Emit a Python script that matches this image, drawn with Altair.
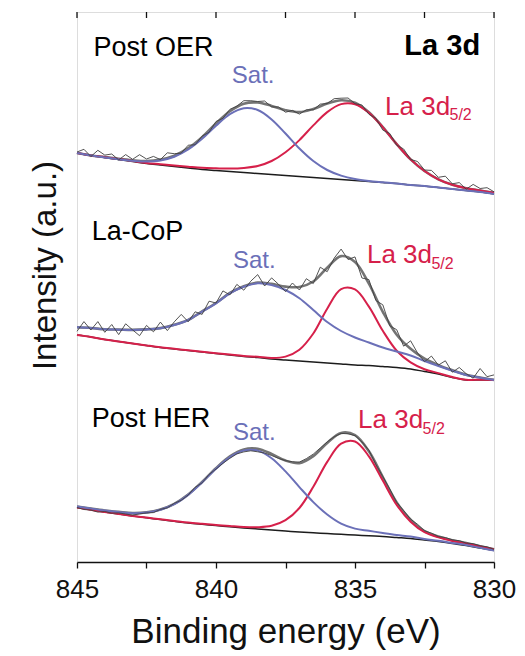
import altair as alt
import pandas as pd

# Binding energy grids (eV)
energy_fit = [845.0, 844.5, 844.0, 843.5, 843.0, 842.5, 842.0, 841.5, 841.0, 840.5,
              840.0, 839.5, 839.0, 838.5, 838.0, 837.5, 837.0, 836.5, 836.0, 835.5,
              835.0, 834.5, 834.0, 833.5, 833.0, 832.5, 832.0, 831.5, 831.0, 830.5, 830.0]
energy_raw = [845.0, 844.75, 844.5, 844.25, 844.0, 843.75, 843.5, 843.25, 843.0, 842.75,
              842.5, 842.25, 842.0, 841.75, 841.5, 841.25, 841.0, 840.75, 840.5, 840.25,
              840.0, 839.75, 839.5, 839.25, 839.0, 838.75, 838.5, 838.25, 838.0, 837.75,
              837.5, 837.25, 837.0, 836.75, 836.5, 836.25, 836.0, 835.75, 835.5, 835.25,
              835.0, 834.75, 834.5, 834.25, 834.0, 833.75, 833.5, 833.25, 833.0, 832.75,
              832.5, 832.25, 832.0, 831.75, 831.5, 831.25, 831.0, 830.75, 830.5, 830.25, 830.0]

# Post OER (intensity, a.u., stacked offset included)
oer_bg = [409, 406.5, 404.5, 402.5, 400.5, 398.5, 397, 395.5, 394, 392.5, 391.5, 390.5, 389.5,
          388.5, 387.5, 386.5, 385.5, 384.5, 383.5, 382.5, 381.5, 380.5, 379.5, 378.5, 377, 376,
          374.5, 373, 371.5, 370, 368]
oer_sat = [409, 406.5, 404.5, 402.7, 401.2, 400.4, 401.6, 405.3, 412.5, 423.2, 436.3, 447.8, 453.8,
           452, 442.6, 428.5, 413.5, 401, 392, 386.4, 383, 381, 379.7, 378.5, 377, 376, 374.5,
           373, 371.5, 370, 368]
oer_la = [409, 406.5, 404.8, 402.9, 401, 399.1, 397.8, 396.5, 395.3, 394.2, 393.7, 393.4, 394,
          396, 401, 409.8, 421.9, 436.6, 449.9, 457.9, 457.8, 449.2, 434.7, 417.9, 402.6, 391,
          382.7, 377.2, 373.8, 371.5, 369.2]
oer_env = [409, 406.5, 404.9, 403.1, 401.7, 401, 402.4, 406.3, 413.8, 424.9, 438.5, 450.7, 458.3,
           459.5, 456.1, 451.8, 449.9, 453.1, 458.4, 461.8, 459.3, 449.7, 434.9, 417.9, 402.6, 391,
           382.7, 377.2, 373.8, 371.5, 369.2]
oer_raw = [410, 412.7, 405.5, 411.7, 406.9, 408, 402.1, 407.4, 402.7, 407.3,
           403, 405.6, 402.4, 409.2, 408.3, 408.9, 416.8, 417.2, 425.9, 429.7,
           440.5, 443.7, 452.7, 455.8, 461.3, 461.3, 460.5, 461, 455.1, 455,
           449.8, 451.6, 447.9, 452.2, 452.1, 457.9, 458.4, 463.3, 463.8, 464,
           458.3, 457, 447.7, 443.7, 431.9, 428.5, 416.9, 413, 402.6, 400.5,
           392, 391.6, 384.7, 385.8, 378.2, 379.4, 372.8, 377.6, 373.5, 374.3, 370.2]

# La-CoP
cop_bg = [227, 225, 222.5, 220.5, 218.5, 216.5, 214.5, 213, 211.5, 210, 208.5, 207, 205.5, 204.5,
          203, 202, 201, 200, 199, 198, 197, 196.5, 195.5, 194.5, 193, 190.5, 188, 184.5, 182,
          182, 182]
cop_sat = [234.7, 234, 232.7, 232.3, 232, 232.5, 233.7, 237, 242, 250.3, 258.7, 268.7, 275.3,
           278.7, 277, 272, 263.7, 252, 240, 231, 224.5, 219.5, 214.5, 210.5, 206.5, 201, 196,
           191.3, 187, 184.3, 182]
cop_la = [227, 225, 222.5, 220.6, 218.6, 216.6, 214.7, 213.2, 211.7, 210.3, 208.8, 207.4, 206,
          205.2, 204.1, 205.4, 212.3, 228.5, 253.3, 272.9, 272.6, 255.4, 231.2, 211.3, 199.7,
          192.8, 188.9, 185, 182.3, 182.2, 182.1]
cop_env = [234.7, 234, 232.7, 232.4, 232.1, 232.6, 233.9, 237.2, 242.2, 250.6, 259, 269.1, 275.8,
           279.4, 278.1, 275.4, 275, 280.5, 294.3, 305.9, 300.1, 278.4, 250.2, 227.3, 213.2,
           203.3, 196.9, 191.8, 187.3, 184.5, 182.1]
cop_raw = [230.7, 240.4, 232, 240.4, 229.7, 237.5, 227.4, 238.2, 232.1, 226.3,
           236.6, 230.2, 239.9, 231.4, 240.2, 247.6, 240.2, 250.2, 247.6, 260.8,
           259, 271.1, 267.1, 277.6, 271.8, 280.8, 287.4, 276, 284.1, 277.7,
           270.4, 279, 272, 283.3, 278.5, 294.8, 290.3, 303.8, 312.9, 302.5,
           305.1, 284, 282.4, 261.5, 257.2, 236.2, 232.3, 215.8, 221.2, 209,
           200.3, 205.9, 196.9, 201.2, 189.8, 194.5, 188.3, 183.8, 193.5, 185.3, 187.1]

# Post HER
her_bg = [54.5, 52.2, 50, 48, 46, 44.2, 42.5, 40.7, 39, 37.7, 36.5, 35.2, 34, 33, 32, 31, 30,
          29.2, 28.5, 27.7, 27, 26.2, 25.5, 24.5, 23.5, 22, 20.5, 18.5, 16.5, 14, 11.5]
her_sat = [55.5, 53.4, 51.5, 50, 48.8, 49.4, 52.3, 57.8, 67.1, 79.6, 93.3, 104.9, 111.6, 111.4,
           103.8, 90.6, 74.9, 59.9, 47.5, 38.4, 33.4, 31.2, 29, 27, 25.5, 23, 21.3, 19.1, 16.9,
           14.2, 11.5]
her_la = [54.5, 52.2, 50, 48.1, 46.1, 44.4, 42.8, 41.1, 39.4, 38.2, 37.1, 36, 35, 34.8, 36.2,
          41.8, 54, 75.2, 100.1, 118.4, 120.5, 105.7, 81.4, 57.1, 40.3, 29.8, 24.6, 21.1, 18.5,
          15.5, 12.7]
her_env = [55.5, 53.4, 51.5, 50.1, 48.9, 49.6, 52.6, 58.2, 67.5, 80.1, 93.9, 105.7, 112.6, 113.2,
           108, 101.4, 98.9, 105.9, 119.1, 129.1, 126.9, 110.7, 84.9, 59.6, 42.3, 30.8, 25.4,
           21.7, 18.9, 15.7, 12.7]
her_raw = [54.5, 52.5, 51.9, 49.9, 50.5, 48.8, 49.1, 48, 46.9, 48.1,
           49.1, 49.4, 52.6, 54.2, 58.7, 61.7, 67, 74.7, 79.1, 87.5,
           92.9, 98.7, 103.7, 108.1, 110.1, 111.2, 110.2, 109, 106.5, 103.6,
           101.4, 100.3, 99.9, 103.4, 107.9, 114, 120.1, 125.2, 128.6, 128.2,
           126.4, 120, 111.7, 97.7, 85.4, 73, 59.6, 51.4, 42.8, 37.7,
           31.3, 28.8, 25.4, 24.5, 22.2, 21.3, 18.9, 18.3, 16.2, 15.2, 12.7]

# Annotations
label_text = ["Post OER", "Sat.", "La 3d", "5/2",
              "La-CoP", "Sat.", "La 3d", "5/2",
              "Post HER", "Sat.", "La 3d", "5/2"]
label_energy = [844.41, 839.43, 833.92, 831.60,
                844.47, 839.39, 834.57, 832.25,
                844.47, 839.39, 834.89, 832.57]
label_intensity = [506, 478.7, 447, 442,
                   322, 294, 298.7, 293.5,
                   135.3, 122, 133.7, 128.5]
label_size = [27, 24, 26, 16, 27, 24, 26, 16, 27, 24, 26, 16]
label_kind = ["sample", "sat", "la", "la", "sample", "sat", "la", "la", "sample", "sat", "la", "la"]
title_text = ["La 3d"]
title_energy = [830.5]
title_intensity = [507]
tick_energy = [845, 842.5, 840, 837.5, 835, 832.5, 830]

BLUE = "#6b70b8"
RED = "#d6204a"
FONT = "Liberation Sans"

panels = {
    "Post OER": dict(bg=oer_bg, sat=oer_sat, la=oer_la, env=oer_env, raw=oer_raw),
    "La-CoP": dict(bg=cop_bg, sat=cop_sat, la=cop_la, env=cop_env, raw=cop_raw),
    "Post HER": dict(bg=her_bg, sat=her_sat, la=her_la, env=her_env, raw=her_raw),
}

rows = []
for pname, d in panels.items():
    for comp in ["bg", "sat", "la", "env"]:
        for e, v in zip(energy_fit, d[comp]):
            rows.append({"panel": pname, "comp": comp, "E": e, "I": v})
    for e, v in zip(energy_raw, d["raw"]):
        rows.append({"panel": pname, "comp": "raw", "E": e, "I": v})
df = pd.DataFrame(rows)

kind_color = {"sample": "#000000", "sat": BLUE, "la": RED}
df_lab = pd.DataFrame({
    "E": label_energy, "I": label_intensity, "text": label_text,
    "size": label_size, "color": [kind_color[k] for k in label_kind],
})
df_title = pd.DataFrame({"E": title_energy, "I": title_intensity, "text": title_text})
df_ticks = pd.DataFrame({"E": tick_energy})

x_enc = alt.X(
    "E:Q",
    scale=alt.Scale(domain=[845, 830], nice=False, zero=False),
    axis=alt.Axis(
        values=tick_energy,
        labelExpr="datum.value % 5 == 0 ? format(datum.value, 'd') : ''",
        tickSize=6, tickWidth=1.3, tickColor="#111111",
        domainColor="#111111", domainWidth=1.5,
        labelFont=FONT, labelFontSize=26, labelColor="#111111", labelPadding=8,
        labelFlush=False, labelOverlap=False,
        grid=False,
        title="Binding energy (eV)",
        titleFont=FONT, titleFontSize=35, titleFontWeight="normal", titleColor="#111111",
        titleX=208.5, titleY=80, titleAlign="center", titleBaseline="alphabetic",
    ),
)
y_enc = alt.Y(
    "I:Q",
    scale=alt.Scale(domain=[0, 550], nice=False, zero=False),
    axis=alt.Axis(
        labels=False, ticks=False, domain=False, grid=False,
        title="Intensity (a.u.)",
        titleFont=FONT, titleFontSize=33, titleFontWeight="normal", titleColor="#111111",
        titleAngle=270, titleX=-22, titleY=253, titleAlign="center",
        titleBaseline="alphabetic",
    ),
)

base = alt.Chart(df)


def line_layer(comp, color, width, interp):
    return base.transform_filter(alt.datum.comp == comp).mark_line(
        color=color, strokeWidth=width, interpolate=interp
    ).encode(x=x_enc, y=y_enc, detail="panel:N")


env_l = line_layer("env", "#747474", 2.6, "catmull-rom")
bg_l = line_layer("bg", "#1c1c1c", 1.5, "catmull-rom")
la_l = line_layer("la", RED, 2.0, "catmull-rom")
sat_l = line_layer("sat", BLUE, 2.0, "catmull-rom")
raw_l = line_layer("raw", "#404040", 0.9, "linear")

top_ticks = alt.Chart(df_ticks).mark_rule(color="#111111", strokeWidth=1.3).encode(
    x=alt.X("E:Q"), y=alt.value(0), y2=alt.value(6)
)

labels = alt.Chart(df_lab).mark_text(
    font=FONT, align="left", baseline="alphabetic"
).encode(
    x="E:Q", y="I:Q", text="text:N",
    size=alt.Size("size:Q", scale=None),
    color=alt.Color("color:N", scale=None),
)

title_lab = alt.Chart(df_title).mark_text(
    font=FONT, align="right", baseline="alphabetic", fontSize=29, fontWeight="bold",
    color="#000000"
).encode(x="E:Q", y="I:Q", text="text:N")

chart = alt.layer(
    env_l, bg_l, la_l, sat_l, raw_l, top_ticks, labels, title_lab
).properties(
    width=417, height=550,
    autosize=alt.AutoSizeParams(type="none"),
    padding={"left": 69, "top": 4, "right": 22, "bottom": 90},
).configure_view(
    stroke="#111111", strokeWidth=1.5
).configure(background="white")

chart.save("out.html", embed_options={"renderer": "svg", "actions": False})
